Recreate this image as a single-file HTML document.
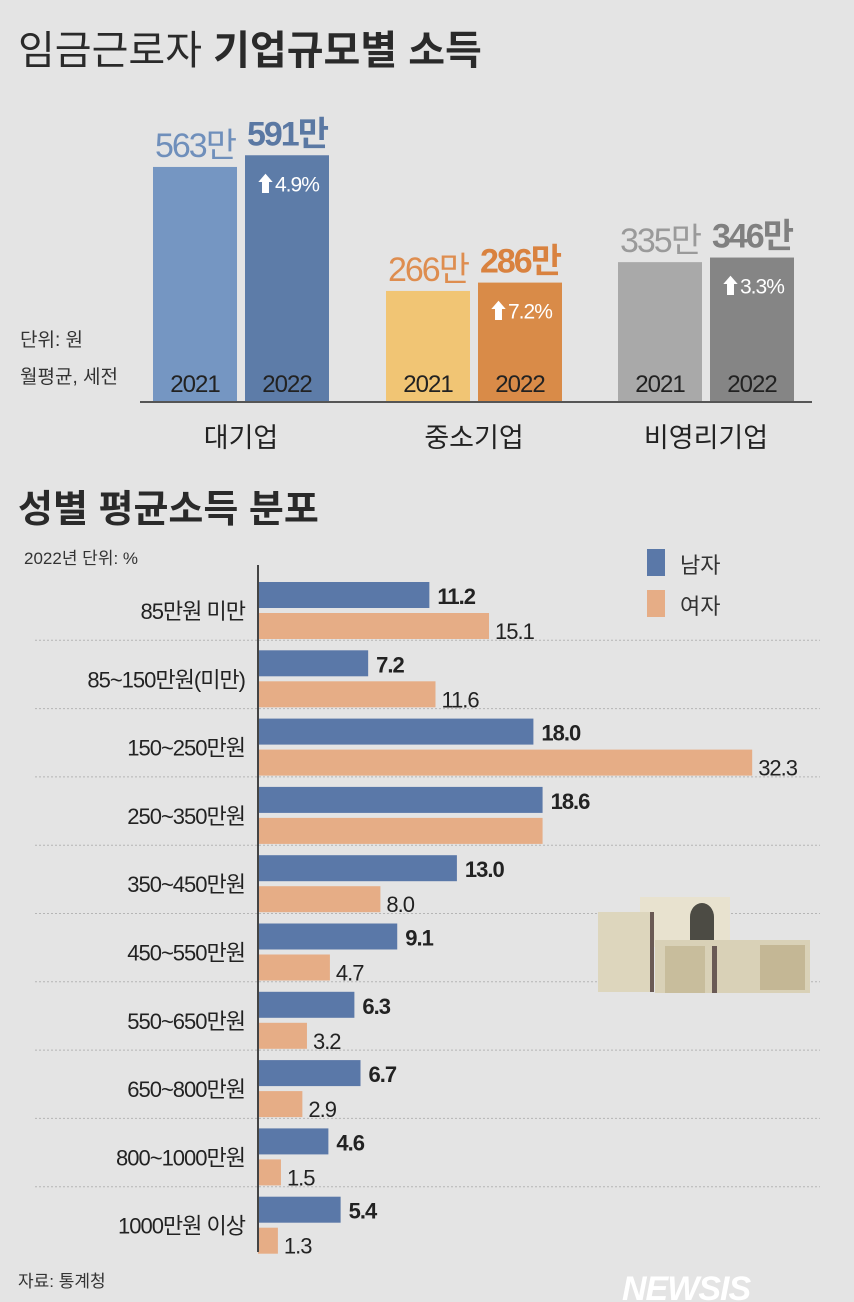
<!DOCTYPE html>
<html><head><meta charset="utf-8">
<style>
html,body{margin:0;padding:0;}
body{width:854px;height:1302px;background:#e4e4e4;overflow:hidden;font-family:"Liberation Sans","Noto Sans CJK KR",sans-serif;}
svg{display:block}
</style></head>
<body>
<svg width="854" height="1302" viewBox="0 0 854 1302" xmlns="http://www.w3.org/2000/svg" font-family="Liberation Sans, Noto Sans CJK KR, sans-serif">
<rect x="0" y="0" width="854" height="1302" fill="#e4e4e4"/>
<text x="18" y="64" font-size="40" fill="#2a2a2a">임금근로자 <tspan font-weight="bold">기업규모별 소득</tspan></text>
<g id="topChart"></g>
<text x="20" y="346" font-size="19" fill="#333">단위: 원</text>
<text x="20" y="383" font-size="19" fill="#333">월평균, 세전</text>
<line x1="140" y1="402" x2="812" y2="402" stroke="#555" stroke-width="2"/>
<text x="18" y="522" font-size="38" font-weight="bold" fill="#2a2a2a">성별 평균소득 분포</text>
<text x="24" y="564" font-size="17" fill="#333">2022년 단위: %</text>
<rect x="647" y="549" width="18" height="27" fill="#5a78a8"/>
<text x="680" y="573" font-size="22" fill="#333">남자</text>
<rect x="647" y="590" width="18" height="27" fill="#e6ad86"/>
<text x="680" y="614" font-size="22" fill="#333">여자</text>
<g id="bottomChart"></g>
<line x1="258" y1="565" x2="258" y2="1252" stroke="#444" stroke-width="2"/>
<g>
<rect x="640" y="897" width="90" height="50" fill="#e8e2cf"/>
<path d="M690 945 v-28 a12 14 0 0 1 24 0 v28z" fill="#4c4b44"/>
<rect x="598" y="912" width="54" height="80" fill="#ddd6bd"/>
<rect x="650" y="912" width="4" height="80" fill="#6a5a55"/>
<rect x="655" y="940" width="155" height="53" fill="#d9d1b7"/>
<rect x="712" y="946" width="5" height="47" fill="#6a5a55"/>
<rect x="665" y="946" width="40" height="47" fill="#c8bd9c"/>
<rect x="760" y="945" width="45" height="45" fill="#c4b795"/>
</g>
<text x="18" y="1287" font-size="17" fill="#333">자료: 통계청</text>
<text x="622" y="1300" font-size="34" font-weight="bold" font-style="italic" fill="#ffffff" letter-spacing="-1">NEWSIS</text>
</svg>
<script>
const groups=['대기업','중소기업','비영리기업'];
const v2021=[563,266,335];
const v2022=[591,286,346];
const growth=['4.9%','7.2%','3.3%'];
const labels2021=['563만','266만','335만'];
const labels2022=['591만','286만','346만'];

const cats=['85만원 미만','85~150만원(미만)','150~250만원','250~350만원','350~450만원','450~550만원','550~650만원','650~800만원','800~1000만원','1000만원 이상'];
const male=[11.2,7.2,18.0,18.6,13.0,9.1,6.3,6.7,4.6,5.4];
const female=[15.1,11.6,32.3,18.6,8.0,4.7,3.2,2.9,1.5,1.3];
const femaleShow=[true,true,true,false,true,true,true,true,true,true];

const NS='http://www.w3.org/2000/svg';
function mk(t,a,p,txt){const e=document.createElementNS(NS,t);for(const k in a)e.setAttribute(k,a[k]);if(txt!==undefined)e.textContent=txt;p.appendChild(e);return e;}

const topG=document.getElementById('topChart');
const base=402, yk=0.4175;
const yT=v=>base-v*yk;
const gx=[153,386,618], bw=84, gap=8;
const c1=['#7596c2','#f1c574','#a9a9a9'], c2=['#5d7ca8','#d98b48','#858585'];
const lc1=['#6f8fbb','#de8d4f','#9a9a9a'], lc2=['#5a78a3','#d9823f','#808080'];
groups.forEach((g,i)=>{
  const x1=gx[i], x2=gx[i]+bw+gap;
  let r=mk('rect',{x:x1,y:yT(v2021[i]),width:bw,height:v2021[i]*yk,fill:c1[i]},topG);
  
  
  r=mk('rect',{x:x2,y:yT(v2022[i]),width:bw,height:v2022[i]*yk,fill:c2[i]},topG);
  
  
  let t=mk('text',{x:x1+bw/2,y:yT(v2021[i])-10,'font-size':34,'text-anchor':'middle',fill:lc1[i],'letter-spacing':'-2'},topG,labels2021[i]);
  
  
  t=mk('text',{x:x2+bw/2,y:yT(v2022[i])-10,'font-size':34,'font-weight':'bold','text-anchor':'middle',fill:lc2[i],'letter-spacing':'-2'},topG,labels2022[i]);
  
  
  t=mk('text',{x:x2+10,y:yT(v2022[i])+36,'font-size':21,fill:'#fff','letter-spacing':'-1'},topG,'⬆'+growth[i]);
  
  
  t=mk('text',{x:x1+bw/2,y:392,'font-size':24,'text-anchor':'middle',fill:'#222','letter-spacing':'-1'},topG,'2021');
  
  
  t=mk('text',{x:x2+bw/2,y:392,'font-size':24,'text-anchor':'middle',fill:'#222','letter-spacing':'-1'},topG,'2022');
  
  
  t=mk('text',{x:x1+bw+gap/2,y:447,'font-size':27,'text-anchor':'middle',fill:'#222'},topG,g);
  
  
});

const bot=document.getElementById('bottomChart');
const ax=258, xk=15.3, y0=582, pitch=68.3, bh=26;
const xB=v=>ax+v*xk;
cats.forEach((c,i)=>{
  const ym=y0+i*pitch, yf=ym+31;
  if(i>0){const l=mk('line',{x1:35,y1:ym-10,x2:820,y2:ym-10,stroke:'#b5b5b5','stroke-dasharray':'2 2'},bot);
    
    }
  let r=mk('rect',{x:ax,y:ym,width:xB(male[i])-ax,height:bh,fill:'#5a78a8'},bot);
  
  
  r=mk('rect',{x:ax,y:yf,width:xB(female[i])-ax,height:bh,fill:'#e6ad86'},bot);
  
  
  let t=mk('text',{x:xB(male[i])+8,y:ym+22,'font-size':22,'font-weight':'bold',fill:'#222','letter-spacing':'-1'},bot,male[i].toFixed(1));
  
  
  if(femaleShow[i]){t=mk('text',{x:xB(female[i])+6,y:yf+26,'font-size':22,fill:'#222','letter-spacing':'-1'},bot,female[i].toFixed(1));
  
  }
  t=mk('text',{x:245,y:ym+37,'font-size':22,'text-anchor':'end',fill:'#222','letter-spacing':'-1'},bot,c);
  
  
});
</script>
</body></html>
